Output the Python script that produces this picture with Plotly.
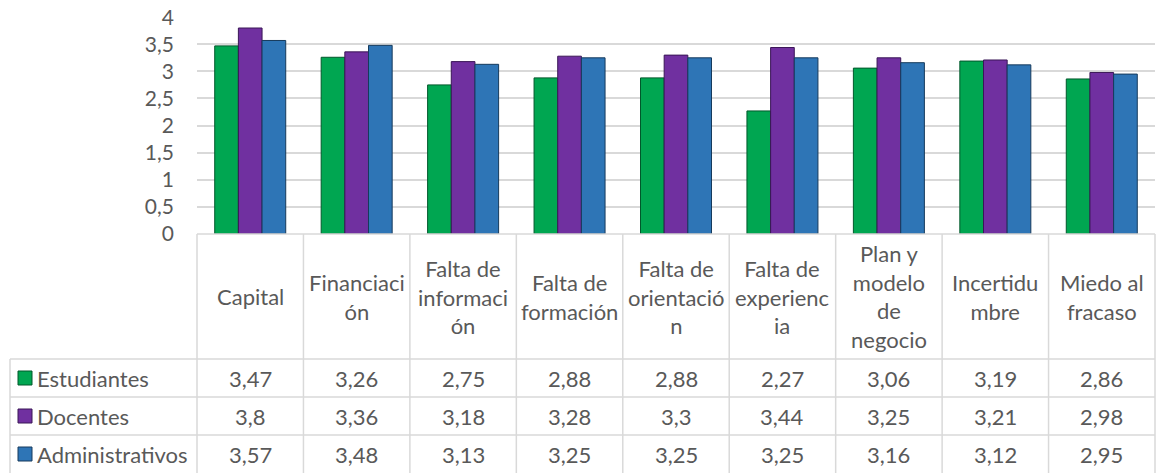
import plotly.graph_objects as go

# Data
categories = ['Capital', 'Financiación', 'Falta de información', 'Falta de formación',
              'Falta de orientación', 'Falta de experiencia', 'Plan y modelo de negocio',
              'Incertidumbre', 'Miedo al fracaso']
# header text as wrapped in the original table
header_labels = ['Capital', 'Financiaci<br>ón', 'Falta de<br>informaci<br>ón', 'Falta de<br>formación',
                 'Falta de<br>orientació<br>n', 'Falta de<br>experienc<br>ia', 'Plan y<br>modelo<br>de<br>negocio',
                 'Incertidu<br>mbre', 'Miedo al<br>fracaso']
estudiantes = [3.47, 3.26, 2.75, 2.88, 2.88, 2.27, 3.06, 3.19, 2.86]
docentes = [3.8, 3.36, 3.18, 3.28, 3.3, 3.44, 3.25, 3.21, 2.98]
administrativos = [3.57, 3.48, 3.13, 3.25, 3.25, 3.25, 3.16, 3.12, 2.95]
series_names = ['Estudiantes', 'Docentes', 'Administrativos']
y_ticks = [0, 0.5, 1, 1.5, 2, 2.5, 3, 3.5, 4]

series_values = [estudiantes, docentes, administrativos]
colors = ['#00a651', '#7030a0', '#2e75b6']
edge_colors = ['#00582b', '#3a1656', '#163a5c']

TEXT = '#595959'
GRID = '#d9d9d9'
FONT = 'Lato'
FS = 22

# pixel layout of the page (body margin is removed below)
W, H = 1159, 473
L, R, T, B = 197, 1155, 17, 234


def px(x):
    return (x - L) / (R - L)


def py(y):
    return (B - y) / (B - T)


fig = go.Figure()
for name, vals, col, edge in zip(series_names, series_values, colors, edge_colors):
    fig.add_trace(go.Bar(x=categories, y=vals, name=name, marker_color=col,
                         marker_line=dict(color=edge, width=1)))

# table geometry (pixels)
header_top, header_bottom = 234, 359
row_edges = [359, 397, 435, 473]
table_left = 10

shapes = []
# horizontal lines
shapes.append(dict(type='line', xref='paper', yref='paper', x0=0, x1=1, y0=0, y1=0,
                   line=dict(color=GRID, width=1.5)))
for y in row_edges[:-1]:
    shapes.append(dict(type='line', xref='paper', yref='paper', x0=px(table_left), x1=1,
                       y0=py(y), y1=py(y), line=dict(color=GRID, width=1.5)))
# vertical lines at category boundaries
n = len(categories)
for i in range(n + 1):
    shapes.append(dict(type='line', xref='x domain', yref='paper', x0=i / n, x1=i / n,
                       y0=py(header_top), y1=py(H), line=dict(color=GRID, width=1.5)))
shapes.append(dict(type='line', xref='paper', yref='paper', x0=px(table_left), x1=px(table_left),
                   y0=py(header_bottom), y1=py(H), line=dict(color=GRID, width=1.5)))

annotations = []
for i, lab in enumerate(header_labels):
    annotations.append(dict(x=categories[i], y=py((header_top + header_bottom) / 2), xref='x', yref='paper',
                            text=lab, showarrow=False, align='center', yanchor='middle',
                            font=dict(size=FS, color=TEXT, family=FONT)))
for r, (name, vals, col, edge) in enumerate(zip(series_names, series_values, colors, edge_colors)):
    yc = (row_edges[r] + row_edges[r + 1]) / 2
    # legend key
    shapes.append(dict(type='rect', xref='paper', yref='paper', x0=px(18), x1=px(32),
                       y0=py(yc + 7), y1=py(yc - 7), fillcolor=col, line=dict(color=edge, width=1)))
    annotations.append(dict(x=px(35), y=py(yc), xref='paper', yref='paper', text=name,
                            showarrow=False, xanchor='left', yanchor='middle',
                            font=dict(size=FS, color=TEXT, family=FONT)))
    for i, v in enumerate(vals):
        annotations.append(dict(x=categories[i], y=py(yc), xref='x', yref='paper',
                                text=str(v).replace('.', ','), showarrow=False, yanchor='middle',
                                font=dict(size=FS, color=TEXT, family=FONT)))

fig.update_layout(
    width=W, height=H,
    margin=dict(l=L, r=W - R, t=T, b=H - B),
    paper_bgcolor='white', plot_bgcolor='white',
    barmode='group', bargap=0.333, bargroupgap=0,
    showlegend=False,
    separators=', ',
    font=dict(family=FONT, color=TEXT),
    shapes=shapes,
    annotations=annotations,
)
fig.update_xaxes(range=[-0.5, n - 0.5], showticklabels=False, showgrid=False, zeroline=False,
                 showline=False, automargin=False)
fig.update_yaxes(range=[0, 4.003], tickvals=y_ticks, showgrid=True, gridcolor=GRID, gridwidth=1.5,
                 zeroline=False, showline=False, ticklabelstandoff=22, ticklabeloverflow='allow',
                 automargin=False, tickfont=dict(size=21, color=TEXT, family=FONT))

fig.write_html("out.html", config={'displayModeBar': False},
               post_script="document.body.style.margin = '0';")
